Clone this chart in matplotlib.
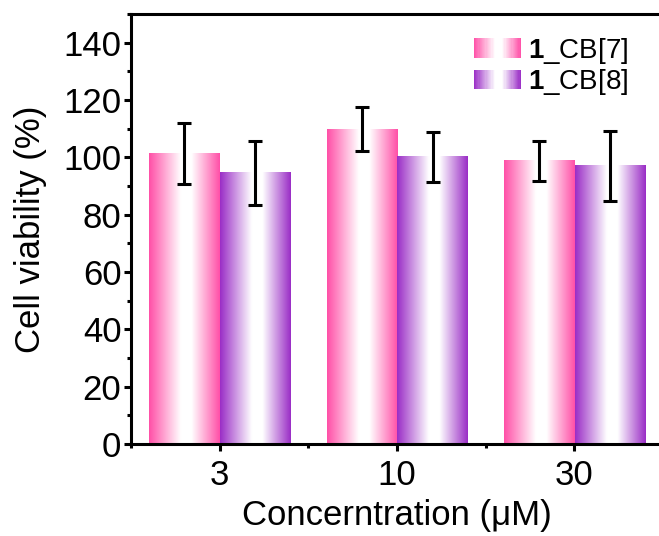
import numpy as np
import matplotlib; matplotlib.use('Agg')
from matplotlib import pyplot as plt
from matplotlib.colors import LinearSegmentedColormap
from matplotlib.patches import Rectangle
from matplotlib.legend_handler import HandlerBase
from matplotlib.ticker import MultipleLocator, FixedLocator

############## DATA ################
concentrations = ['3', '10', '30']
cb7_mean = [101.3, 109.8, 98.8]
cb7_err = [10.6, 7.6, 7.0]
cb8_mean = [94.6, 100.2, 97.1]
cb8_err = [11.2, 8.7, 12.2]
labels = [r'$\mathbf{1}$_CB[7]', r'$\mathbf{1}$_CB[8]']
colors = ['#FF4FA7', '#9A2DC6']

plt.rcParams['font.family'] = ['Liberation Sans', 'DejaVu Sans']
plt.rcParams['mathtext.fontset'] = 'custom'
plt.rcParams['mathtext.rm'] = 'Liberation Sans'
plt.rcParams['mathtext.bf'] = 'Liberation Sans:bold'


def make_cmap(c):
    return LinearSegmentedColormap.from_list(
        'g', [(0, c), (0.45, 'white'), (0.6, 'white'), (1, c)])


class GradientHandler(HandlerBase):
    def __init__(self, cmap, n=40):
        super().__init__()
        self.cmap = cmap
        self.n = n

    def create_artists(self, legend, orig_handle, xdescent, ydescent,
                       width, height, fontsize, trans):
        arts = []
        w = width / self.n
        for i in range(self.n):
            r = Rectangle((-xdescent + i * w, -ydescent), w * 1.05, height,
                          facecolor=self.cmap((i + 0.5) / self.n), edgecolor='none',
                          transform=trans)
            arts.append(r)
        return arts


fig = plt.figure(figsize=(6.59, 5.36), dpi=100)
ax = fig.add_axes([0.199, 0.1716, 0.807, 0.8024])

x = np.arange(len(concentrations))
width = 0.395
cmaps = [make_cmap(c) for c in colors]
grad = np.linspace(0, 1, 256).reshape(1, -1)

handles = []
for k, (vals, errs, off) in enumerate([(cb7_mean, cb7_err, -0.2), (cb8_mean, cb8_err, 0.2)]):
    bars = ax.bar(x + off, vals, width, facecolor='none', edgecolor='none', label=labels[k])
    for p in bars.patches:
        x0 = p.get_x()
        ax.imshow(grad, extent=[x0, x0 + p.get_width(), 0, p.get_height()],
                  cmap=cmaps[k], aspect='auto', zorder=1, interpolation='bilinear')
    ax.errorbar(x + off, vals, yerr=errs, fmt='none', ecolor='black',
                elinewidth=2.2, capsize=5, capthick=2.2, zorder=3)
    handles.append(bars)

ax.set_xlim(-0.5, 2.5)
ax.set_ylim(0, 150)
ax.set_xticks(x)
ax.set_xticklabels(concentrations)
ax.xaxis.set_minor_locator(FixedLocator([-0.5, 0.5, 1.5, 2.5]))
ax.set_yticks(np.arange(0, 141, 20))
ax.yaxis.set_minor_locator(MultipleLocator(10))

for s in ax.spines.values():
    s.set_linewidth(2.2)
ax.tick_params(axis='both', which='major', direction='out', length=5, width=2.2,
               labelsize=25, pad=2)
ax.tick_params(axis='x', which='major', pad=6)
ax.tick_params(axis='both', which='minor', direction='out', length=3, width=2.2)
ax.tick_params(top=False, right=False, which='both')

ax.set_xlabel('Concerntration (μM)', fontsize=25, labelpad=5)
ax.set_ylabel('Cell viability (%)', fontsize=25, labelpad=12)

ax.legend(handles=handles, labels=labels, loc='upper left',
          bbox_to_anchor=(0.597, 1.007), frameon=False, fontsize=20,
          handlelength=1.7, handleheight=0.7, handletextpad=0.25, labelspacing=0.05,
          handler_map={handles[0]: GradientHandler(cmaps[0]),
                       handles[1]: GradientHandler(cmaps[1])})

plt.savefig('out.png', dpi=100)
plt.close()
